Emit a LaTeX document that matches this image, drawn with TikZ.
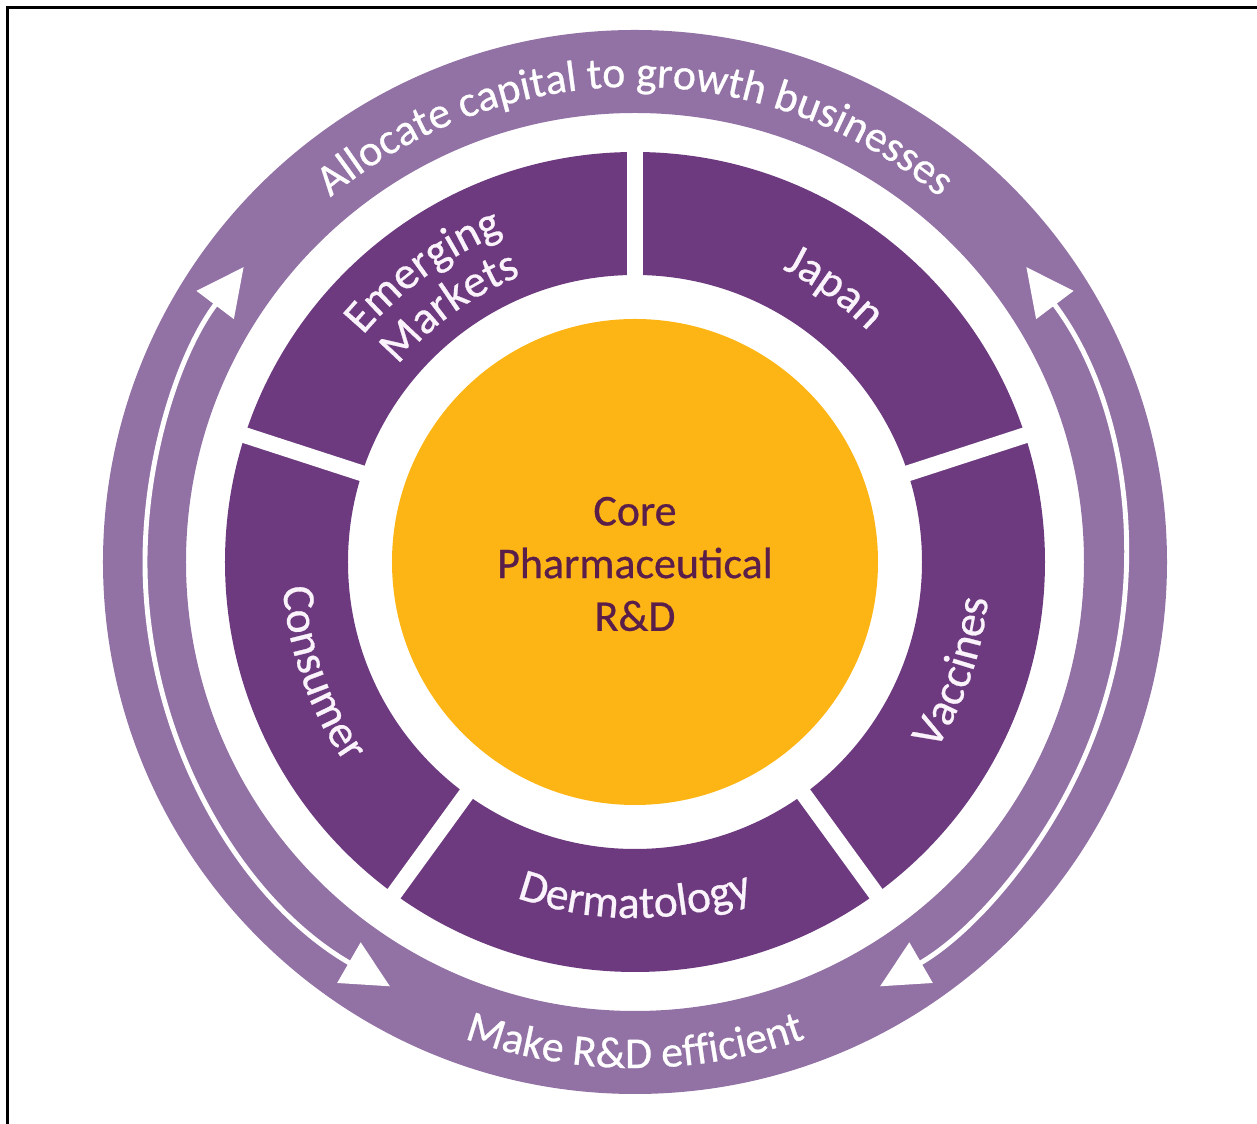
\documentclass[tikz,border=0pt]{standalone}
\usepackage{fontspec}
\setmainfont[FakeBold=0.6]{Carlito}
\newfontfamily\heavyfont[FakeBold=0.6]{Carlito}
\usetikzlibrary{decorations.text,arrows.meta}
\definecolor{ringcol}{HTML}{9271A4}
\definecolor{segcol}{HTML}{6D3A7F}
\definecolor{corecol}{HTML}{FDB515}
\definecolor{coretext}{HTML}{5A1E4B}
\definecolor{labcol}{HTML}{FBF3FB}
\newcommand\lblfont{\heavyfont\fontsize{25}{30}\selectfont}
\newcommand\seglblfont{\heavyfont\fontsize{26}{30}\selectfont}
\begin{document}
\begin{tikzpicture}[x=0.02cm,y=0.02cm,
  arctext/.style={decorate, decoration={text along path, text align=center, text={|\seglblfont\color{labcol}|#1}}},
  ringtext/.style={decorate, decoration={text along path, text align=center, text={|\lblfont\color{white}|#1}}},
  gapline/.style={white, line width=9.1pt},
  cyclearrow/.style={white, line width=2.8pt, {Triangle[length=27pt,width=26pt]}-{Triangle[length=27pt,width=26pt]}}]
\useasboundingbox (-635,-562) rectangle (622,562);
% frame edges
\draw[line width=1.7pt] (-627,-562) -- (-627,554) -- (622,554);
% outer ring
\fill[ringcol, even odd rule] (0,0) circle[radius=532] (0,0) circle[radius=449];
% segment ring
\fill[segcol, even odd rule] (0,0) circle[radius=410] (0,0) circle[radius=287];
\foreach \a in {90,18,-54,-126,162}
  \draw[gapline] (\a:275) -- (\a:420);
% core
\fill[corecol] (0,0) circle[radius=243];
\node[font=\lblfont, text=coretext, align=center] (core) at (0,-2) {Core\\Pharmaceutical\\R\&D};
% segment labels
\path[arctext={Emerging}] (156:354) arc (156:96:354);
\path[arctext={Markets}] (156:308) arc (156:96:308);
\path[arctext={Japan}] (84:328) arc (84:24:328);
\path[arctext={Vaccines}] (-49:355) arc (-49:11:355);
\path[arctext={Dermatology}] (-120:356) arc (-120:-60:356);
\path[arctext={Consumer}] (169.5:353) arc (169.5:229.5:353);
% ring labels
\path[ringtext={Allocate capital to growth businesses}] (165:475) arc (165:15:475);
\path[ringtext={Make R{\&}D efficient}] (-140:506) arc (-140:-40:506);
% cycle arrows
\draw[cyclearrow] (240:490) arc (240:143:490);
\draw[cyclearrow] (37:490) arc (37:-60:490);
\end{tikzpicture}
\end{document}
